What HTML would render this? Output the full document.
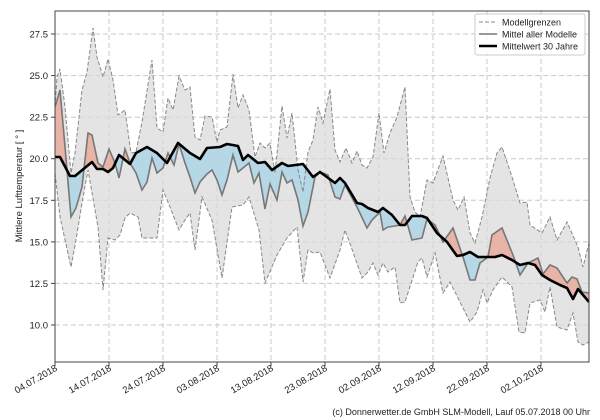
<!DOCTYPE html>
<html><head><meta charset="utf-8"><style>
body{margin:0;background:#fff;}
svg{display:block;font-family:"Liberation Sans","DejaVu Sans",sans-serif;}
</style></head><body>
<svg id="s" width="600" height="420" viewBox="0 0 600 420" xmlns="http://www.w3.org/2000/svg"></svg>
<script>
const B=[[55,157],[60,157],[70,176],[75,176],[92,162],[97,169],[103,169],[108,172],[113,168],[119,155],[130,164],[136,153],[147,147],[157,153],[167,163],[178,143],[190,153],[200,159],[207,148],[220,147],[227,144],[238,146],[243,160],[248,155],[258,163],[265,162],[272,170],[282,163],[288,166],[303,164],[313,177],[320,172],[335,183],[340,178],[345,183],[357,203],[362,204],[368,208],[378,212],[383,208],[392,215],[400,225],[405,225],[412,216],[422,216],[427,218],[437,233],[447,242],[457,256],[463,255],[470,252],[478,257],[495,257],[502,255],[512,260],[520,265],[528,263],[535,265],[542,275],[550,280],[560,285],[567,288],[573,299],[578,289],[589,302]];
const G=[[55,107],[60,90],[65,147],[71,217],[76,208],[82,187],[88,133],[92,135],[98,163],[103,167],[109,149],[115,163],[119,178],[125,149],[130,163],[136,173],[142,190],[147,182],[152,158],[157,173],[163,168],[168,153],[174,165],[179,144],[185,163],[190,177],[195,193],[200,182],[207,174],[212,170],[217,180],[222,195],[227,180],[233,155],[238,172],[243,168],[249,163],[254,183],[259,173],[265,209],[270,184],[277,200],[282,172],[287,183],[292,180],[298,200],[303,226],[308,212],[315,177],[320,172],[328,175],[335,197],[340,199],[345,185],[357,207],[367,228],[372,220],[380,212],[383,230],[388,227],[395,226],[400,225],[405,216],[412,240],[422,238],[427,219],[435,225],[443,242],[453,228],[463,257],[470,280],[475,280],[480,263],[488,257],[492,235],[502,228],[513,255],[520,275],[528,263],[538,258],[543,274],[550,265],[557,268],[567,283],[572,277],[577,279],[582,292],[589,293]];
const U=[[55,107],[57,77],[60,69],[65,107],[71,173],[75,153],[82,90],[87,72],[93,28],[97,57],[103,77],[108,59],[113,80],[118,115],[125,110],[131,153],[136,152],[142,122],[152,60],[157,128],[163,132],[168,98],[173,110],[179,76],[185,90],[190,87],[195,137],[200,140],[205,116],[212,117],[217,142],[220,130],[227,127],[233,74],[238,108],[243,95],[249,110],[255,157],[260,143],[265,148],[270,143],[275,173],[282,106],[287,138],[292,113],[298,170],[303,192],[308,152],[313,140],[318,107],[323,123],[330,89],[335,150],[340,162],[346,148],[352,163],[357,151],[362,165],[367,168],[373,157],[379,113],[384,153],[390,133],[397,117],[405,87],[410,197],[415,212],[420,217],[427,180],[433,183],[443,156],[453,200],[458,210],[464,197],[470,233],[475,243],[482,217],[490,178],[497,153],[502,147],[512,177],[520,203],[527,202],[530,225],[542,233],[550,217],[557,240],[567,222],[578,247],[583,267],[589,243]];
const L=[[55,173],[60,217],[71,267],[76,240],[82,203],[88,170],[98,227],[103,290],[108,238],[115,240],[120,235],[125,218],[130,213],[138,217],[142,238],[157,238],[163,190],[170,207],[179,230],[185,220],[190,213],[195,250],[202,197],[212,220],[222,278],[232,207],[243,205],[249,197],[259,230],[265,283],[277,255],[287,238],[297,227],[303,282],[308,250],[313,253],[320,252],[330,278],[340,250],[345,230],[353,252],[362,278],[368,272],[373,263],[378,275],[383,263],[388,272],[395,267],[400,303],[405,302],[418,262],[422,258],[427,277],[435,253],[443,293],[450,282],[460,302],[470,322],[477,312],[483,290],[487,303],[493,290],[502,277],[512,287],[519,332],[525,333],[530,303],[540,300],[545,312],[550,287],[557,327],[567,330],[573,313],[578,342],[583,345],[589,342]];
const p=a=>a.map(q=>q.join(',')).join(' ');
const rev=a=>a.slice().reverse();
let h='';
h+=`<defs><clipPath id="ab"><polygon points="${p(B)} 589,0 55,0"/></clipPath><clipPath id="be"><polygon points="${p(B)} 589,420 55,420"/></clipPath><clipPath id="ax"><rect x="55" y="11" width="534" height="351"/></clipPath></defs>`;
h+=`<rect x="55" y="11" width="534" height="351" fill="#fff"/>`;
// grid
const yt=[[10,325],[12.5,283.4],[15,241.9],[17.5,200.3],[20,158.7],[22.5,117.2],[25,75.6],[27.5,34]];
yt.forEach(t=>{h+=`<line x1="55" x2="589" y1="${t[1]}" y2="${t[1]}" stroke="#c8c8c8" stroke-dasharray="5,3" stroke-width="1"/>`;});
const xs=[55,109,163,217,271,325,379,433,487,541];
xs.slice(1).forEach(x=>{h+=`<line y1="11" y2="362" x1="${x}" x2="${x}" stroke="#c8c8c8" stroke-dasharray="5,3" stroke-width="1"/>`;});
h+=`<g clip-path="url(#ax)">`;
h+=`<polygon points="${p(U)} ${p(rev(L))}" fill="#d9d9d9" fill-opacity="0.7"/>`;
const reg=`${p(G)} ${p(rev(B))}`;
h+=`<polygon points="${reg}" fill="#eaa898" fill-opacity="0.8" clip-path="url(#ab)"/>`;
h+=`<polygon points="${reg}" fill="#a9d3e6" fill-opacity="0.8" clip-path="url(#be)"/>`;
h+=`<polyline points="${p(U)}" fill="none" stroke="#888" stroke-width="1" stroke-dasharray="4,2"/>`;
h+=`<polyline points="${p(L)}" fill="none" stroke="#888" stroke-width="1" stroke-dasharray="4,2"/>`;
h+=`<polyline points="${p(G)}" fill="none" stroke="#777" stroke-width="1.6"/>`;
h+=`<polyline points="${p(B)}" fill="none" stroke="#000" stroke-width="2.6" stroke-linejoin="round"/>`;
h+=`</g>`;
h+=`<rect x="55" y="11" width="534" height="351" fill="none" stroke="#444" stroke-width="1"/>`;
yt.forEach(t=>{h+=`<line x1="51" x2="55" y1="${t[1]}" y2="${t[1]}" stroke="#444"/><text x="48" y="${t[1]+3.5}" font-size="9.5" text-anchor="end" fill="#222">${t[0].toFixed(1)}</text>`;});
const dl=["04.07.2018","14.07.2018","24.07.2018","03.08.2018","13.08.2018","23.08.2018","02.09.2018","12.09.2018","22.09.2018","02.10.2018"];
xs.forEach((x,i)=>{h+=`<line x1="${x}" x2="${x}" y1="362" y2="366" stroke="#444"/><text transform="translate(${x+3},370) rotate(-30)" font-size="9.5" text-anchor="end" fill="#222">${dl[i]}</text>`;});
h+=`<text transform="translate(22,186) rotate(-90)" font-size="9.5" text-anchor="middle" fill="#222">Mittlere Lufttemperatur [ ° ]</text>`;
// legend
h+=`<rect x="475" y="14" width="110" height="41" rx="2" fill="#fff" fill-opacity="0.85" stroke="#ccc"/>`;
h+=`<line x1="479" x2="497" y1="22" y2="22" stroke="#888" stroke-dasharray="4,2"/><text x="502" y="25.5" font-size="9" fill="#222">Modellgrenzen</text>`;
h+=`<line x1="479" x2="497" y1="34" y2="34" stroke="#777" stroke-width="1.6"/><text x="502" y="37.5" font-size="9" fill="#222">Mittel aller Modelle</text>`;
h+=`<line x1="479" x2="497" y1="46" y2="46" stroke="#000" stroke-width="2.6"/><text x="502" y="49.5" font-size="9" fill="#222">Mittelwert 30 Jahre</text>`;
h+=`<text x="590" y="415" font-size="9" text-anchor="end" fill="#222">(c) Donnerwetter.de GmbH SLM-Modell, Lauf 05.07.2018 00 Uhr</text>`;
document.getElementById('s').innerHTML=h;
</script>
</body></html>
